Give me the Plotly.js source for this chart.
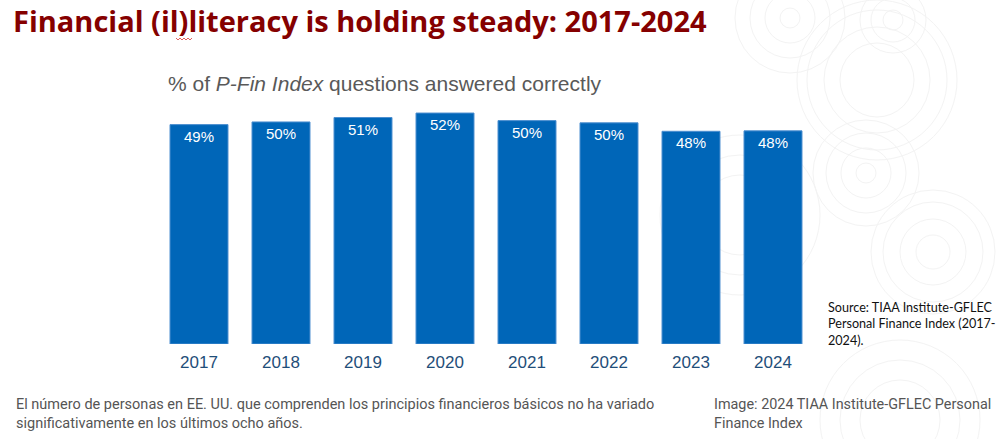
<!DOCTYPE html>
<html>
<head>
<meta charset="utf-8">
<script src="https://cdn.plot.ly/plotly-3.0.1.min.js"></script>
<style>
html,body{margin:0;padding:0;background:#fff;}
#chart{width:1002px;height:439px;}
</style>
</head>
<body>
<div id="chart"></div>
<script>
const years = ["2017","2018","2019","2020","2021","2022","2023","2024"];
const pctCorrect = [49.3, 49.9, 50.9, 51.9, 50.2, 49.7, 47.8, 47.9];

const titleText = "Financial (il)literacy is holding steady: 2017-2024";
const subtitleText = "% of <i>P-Fin Index</i> questions answered correctly";
const sourceText = "Source: TIAA Institute-GFLEC<br>Personal Finance Index (2017-<br>2024).";
const captionText = "El número de personas en EE. UU. que comprenden los principios financieros básicos no ha variado<br>significativamente en los últimos ocho años.";
const creditText = "Image: 2024 TIAA Institute-GFLEC Personal<br>Finance Index";

const W = 1002, H = 439;
const ML = 158, MR = 188, MT = 100, MB = 95;
const PW = W - ML - MR, PH = H - MT - MB;
function px(x){return (x - ML)/PW;}
function py(y){return (H - MB - y)/PH;}

// faint decorative circles (pixel centres / radii)
const circleSets = [
  {cx:790, cy:18, r:[10,25,40,55]},
  {cx:893, cy:20, r:[10,22,33]},
  {cx:877, cy:80, r:[37,53,70,80]},
  {cx:866, cy:173, r:[10,25,40,53]},
  {cx:933, cy:252, r:[17,33,50,62]},
  {cx:740, cy:215, r:[40,60,80]},
  {cx:900, cy:420, r:[40,60,80]}
];
const shapes = [];
circleSets.forEach(s => s.r.forEach(r => {
  shapes.push({type:'circle', xref:'paper', yref:'paper', layer:'below',
    x0:px(s.cx-r), x1:px(s.cx+r), y0:py(s.cy+r), y1:py(s.cy-r),
    line:{color:'#f3f3f3', width:1}});
}));
// spell-check squiggle under "il"
let sq = "M " + px(176) + "," + py(38);
for (let i=1;i<=8;i++){ sq += " L " + px(176+i*2) + "," + py(i%2 ? 40 : 38); }
shapes.push({type:'path', xref:'paper', yref:'paper', path:sq, line:{color:'#e06060', width:1}});

const trace = {
  type:'bar',
  x: years,
  y: pctCorrect,
  marker:{color:'#0066B8', line:{color:'#4d8fd0', width:1}},
  texttemplate:'%{y:.0f}%',
  textposition:'inside',
  insidetextanchor:'end',
  textfont:{family:'Liberation Sans, Arial, sans-serif', size:15, color:'#ffffff'},
  hoverinfo:'none',
  cliponaxis:false
};

const layout = {
  width:W, height:H,
  margin:{l:ML, r:MR, t:MT, b:MB},
  paper_bgcolor:'#ffffff', plot_bgcolor:'rgba(0,0,0,0)',
  showlegend:false,
  bargap:0.293,
  xaxis:{type:'category', range:[-0.5,7.5], showline:false, showgrid:false, zeroline:false,
    ticks:'', ticklabelstandoff:6,
    tickfont:{family:'Liberation Sans Narrow, Arial Narrow, Liberation Sans, sans-serif', size:17, color:'#1F4E79'}},
  yaxis:{range:[0,PH/4.45], visible:false, fixedrange:true},
  shapes: shapes,
  annotations:[
    {text:titleText, xref:'paper', yref:'paper', x:px(11), y:py(20), xanchor:'left', yanchor:'middle',
      showarrow:false, font:{family:'Open Sans, Noto Sans, sans-serif', size:29, color:'#850000', weight:700}},
    {text:subtitleText, xref:'paper', yref:'paper', x:px(166), y:py(84), xanchor:'left', yanchor:'middle',
      showarrow:false, font:{family:'Liberation Sans, Arial, sans-serif', size:21, color:'#595959'}},
    {text:sourceText, xref:'paper', yref:'paper', x:px(826), y:py(324), xanchor:'left', yanchor:'middle', align:'left',
      showarrow:false, font:{family:'Lato, Carlito, sans-serif', size:12.6, color:'#111111'}},
    {text:captionText, xref:'paper', yref:'paper', x:px(14), y:py(414), xanchor:'left', yanchor:'middle', align:'left',
      showarrow:false, font:{family:'Roboto, Noto Sans, sans-serif', size:14.5, color:'#555555'}},
    {text:creditText, xref:'paper', yref:'paper', x:px(712), y:py(414), xanchor:'left', yanchor:'middle', align:'left',
      showarrow:false, font:{family:'Roboto, Noto Sans, sans-serif', size:14.4, color:'#555555'}}
  ]
};

Plotly.newPlot('chart', [trace], layout, {displayModeBar:false, staticPlot:true});
</script>
</body>
</html>
